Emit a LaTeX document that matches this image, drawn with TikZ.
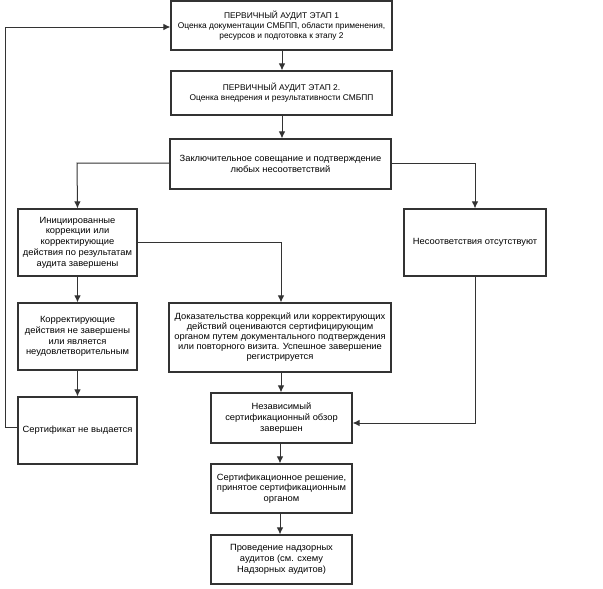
\documentclass[tikz,border=0pt]{standalone}
\usepackage{fontspec}
\setmainfont{Liberation Sans}
\newfontfamily\widefont[FakeStretch=1.04]{Liberation Sans}
\newfontfamily\topfont[FakeStretch=1.01]{Liberation Sans}
\usetikzlibrary{arrows.meta}
\begin{document}
\begin{tikzpicture}[x=1pt,y=-1pt,
  box/.style={draw=black!80,line width=1.1pt,rectangle,align=center,inner sep=2pt,
    font=\widefont\fontsize{9}{10.7}\selectfont},
  topbox/.style={box,font=\topfont\fontsize{8.3}{10}\selectfont},
  conn/.style={draw=black!80,line width=1pt},
  arr/.style={conn,-{Latex[length=7pt,width=6.5pt]}}]
\useasboundingbox (0,0) rectangle (603,589);
\node[topbox,minimum width=221pt,minimum height=49pt] (b1) at (281.5,25.5)
  {ПЕРВИЧНЫЙ АУДИТ ЭТАП 1\\Оценка документации СМБПП, области применения,\\ресурсов и подготовка к этапу 2};
\node[topbox,minimum width=221pt,minimum height=44pt] (b2) at (281.5,93)
  {ПЕРВИЧНЫЙ АУДИТ ЭТАП 2.\\Оценка внедрения и результативности СМБПП};
\node[box,minimum width=221pt,minimum height=50pt] (b3) at (280.5,164)
  {Заключительное совещание и подтверждение\\любых несоответствий};
\node[box,minimum width=119pt,minimum height=67pt] (b4) at (77.5,242.5)
  {Инициированные\\коррекции или\\корректирующие\\действия по результатам\\аудита завершены};
\node[box,minimum width=142pt,minimum height=67pt] (b5) at (475,242.5)
  {Несоответствия отсутствуют};
\node[box,minimum width=119pt,minimum height=67pt] (l2) at (77.5,336.5)
  {Корректирующие\\действия не завершены\\или является\\неудовлетворительным};
\node[box,minimum width=119pt,minimum height=67pt] (l3) at (77.5,430.5)
  {Сертификат не выдается};
\node[box,minimum width=222pt,minimum height=69pt,font=\widefont\fontsize{9}{10}\selectfont] (b6) at (280,337.5)
  {Доказательства коррекций или корректирующих\\действий оцениваются сертифицирующим\\органом путем документального подтверждения\\или повторного визита. Успешное завершение\\регистрируется};
\node[box,minimum width=141pt,minimum height=50pt] (b8) at (281.5,418)
  {Независимый\\сертификационный обзор\\завершен};
\node[box,minimum width=141pt,minimum height=49pt] (b9) at (281.5,488.5)
  {Сертификационное решение,\\принятое сертификационным\\органом};
\node[box,minimum width=141pt,minimum height=49pt] (b10) at (281.5,559.5)
  {Проведение надзорных\\аудитов (см. схему\\Надзорных аудитов)};
\coordinate (cL) at (77,163);
\coordinate (cR) at (475,163);
\coordinate (c4) at (281,242.5);
\coordinate (c5) at (475,423);
\coordinate (f1) at (5,427);
\coordinate (f2) at (5,27);
\draw[arr] (b1.south -| 282,0) -- (b2.north -| 282,0);
\draw[arr] (b2.south -| 282,0) -- (b3.north -| 282,0);
\draw[arr] (b3.west |- cL) -- (cL) -- (b4.north);
\draw[arr] (b3.east |- cR) -- (cR) -- (b5.north);
\draw[arr] (b4.south) -- (l2.north);
\draw[arr] (l2.south) -- (l3.north);
\draw[arr] (b4.east) -- (c4) -- (b6.north -| c4);
\draw[arr] (b6.south -| 281,0) -- (b8.north -| 281,0);
\draw[arr] (b5.south) -- (c5) -- (b8.east |- c5);
\draw[arr] (b8.south -| 280,0) -- (b9.north -| 280,0);
\draw[arr] (b9.south -| 280,0) -- (b10.north -| 280,0);
\draw[arr] (l3.west |- f1) -- (f1) -- (f2) -- (b1.west |- f2);
\end{tikzpicture}
\end{document}
